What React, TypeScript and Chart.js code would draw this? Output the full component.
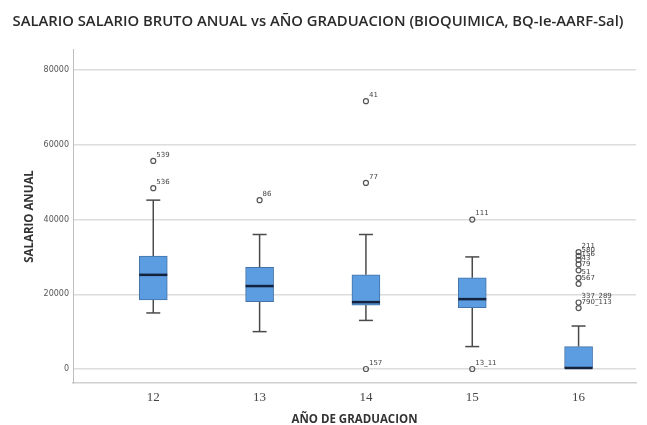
import React, { useEffect, useRef } from 'react';
import { Chart, registerables } from 'chart.js';

Chart.register(...registerables);

// ---- data ----
const years = [12, 13, 14, 15, 16];
const whiskerLow = [15000, 10000, 13000, 6000, 0];
const q1 = [18500, 18000, 17100, 16400, 0];
const median = [25200, 22200, 17900, 18700, 0];
const q3 = [30200, 27200, 25200, 24400, 6000];
const whiskerHigh = [45200, 36000, 36000, 30000, 11500];

const outlierYear = [12, 12, 13, 14, 14, 14, 15, 15, 16, 16, 16, 16, 16, 16, 16, 16, 16];
const outlierValue = [55700, 48400, 45200, 71700, 49800, 0, 40000, 0, 31300, 30300, 29200, 28000, 26400, 24400, 22800, 17800, 16300];
const outlierLabel = ['539', '536', '86', '41', '77', '157', '111', '13_11', '211', '580', '156', '43', '79', '51', '567', '337_289', '790_113'];

const yTicks = [0, 20000, 40000, 60000, 80000];
const xTicks = [12, 13, 14, 15, 16];

const TITLE = 'SALARIO SALARIO BRUTO ANUAL vs AÑO GRADUACION (BIOQUIMICA, BQ-Ie-AARF-Sal)';

const boxParts = {
  id: 'boxParts',
  beforeDatasetsDraw(chart: any) {
    const { ctx, scales } = chart;
    const x = scales.x;
    const y = scales.y;
    ctx.save();
    ctx.strokeStyle = '#4a4a4a';
    ctx.lineWidth = 1.5;
    const cap = 7;
    years.forEach((yr, i) => {
      const px = x.getPixelForValue(yr);
      if (whiskerLow[i] < q1[i]) {
        ctx.beginPath();
        ctx.moveTo(px, y.getPixelForValue(q1[i]));
        ctx.lineTo(px, y.getPixelForValue(whiskerLow[i]));
        ctx.stroke();
        ctx.beginPath();
        ctx.moveTo(px - cap, y.getPixelForValue(whiskerLow[i]));
        ctx.lineTo(px + cap, y.getPixelForValue(whiskerLow[i]));
        ctx.stroke();
      }
      if (whiskerHigh[i] > q3[i]) {
        ctx.beginPath();
        ctx.moveTo(px, y.getPixelForValue(q3[i]));
        ctx.lineTo(px, y.getPixelForValue(whiskerHigh[i]));
        ctx.stroke();
        ctx.beginPath();
        ctx.moveTo(px - cap, y.getPixelForValue(whiskerHigh[i]));
        ctx.lineTo(px + cap, y.getPixelForValue(whiskerHigh[i]));
        ctx.stroke();
      }
    });
    ctx.restore();
  },
  afterDatasetsDraw(chart: any) {
    const { ctx, scales } = chart;
    const x = scales.x;
    const y = scales.y;
    ctx.save();
    ctx.strokeStyle = '#14233d';
    ctx.lineWidth = 2.5;
    years.forEach((yr, i) => {
      const px = x.getPixelForValue(yr);
      const py = y.getPixelForValue(median[i]) - (median[i] === q1[i] ? 1 : 0);
      ctx.beginPath();
      ctx.moveTo(px - 14, py);
      ctx.lineTo(px + 14, py);
      ctx.stroke();
    });
    ctx.fillStyle = '#444';
    ctx.font = '7px "DejaVu Sans"';
    ctx.textBaseline = 'middle';
    ctx.textAlign = 'left';
    outlierYear.forEach((yr, i) => {
      const px = x.getPixelForValue(yr);
      const py = y.getPixelForValue(outlierValue[i]);
      ctx.fillText(outlierLabel[i], px + 3, py - 6);
    });
    ctx.restore();
  },
};

export default function App() {
  const ref = useRef<HTMLCanvasElement | null>(null);
  useEffect(() => {
    document.body.style.margin = '0';
    const canvas = ref.current;
    if (!canvas) return;
    const chart = new Chart(canvas, {
      type: 'bar',
      data: {
        datasets: [
          {
            type: 'bar',
            data: years.map((yr, i) => ({ x: yr, y: [q1[i], q3[i]] })) as any,
            backgroundColor: '#5b9de0',
            borderColor: '#4373a8',
            borderWidth: 1,
            borderSkipped: false,
            barThickness: 28,
          } as any,
          {
            type: 'scatter',
            data: outlierYear.map((yr, i) => ({ x: yr, y: outlierValue[i] })),
            pointStyle: 'circle',
            pointRadius: 2.5,
            backgroundColor: 'rgba(255,255,255,0)',
            borderColor: '#555',
            borderWidth: 1.2,
          } as any,
        ],
      },
      options: {
        responsive: false,
        animation: false,
        devicePixelRatio: 1,
        layout: { padding: { left: 0, right: 11, top: 0, bottom: 0 } },
        plugins: {
          legend: { display: false },
          tooltip: { enabled: false },
          title: {
            display: true,
            text: TITLE,
            color: '#2a2a2a',
            font: { family: 'Open Sans', size: 14.8, weight: '600', lineHeight: 1.2 },
            padding: { top: 13, bottom: 19.2 },
          },
        },
        scales: {
          x: {
            type: 'linear',
            offset: false,
            min: 11.245,
            max: 16.54,
            afterBuildTicks: (s: any) => {
              s.ticks = xTicks.map((v) => ({ value: v }));
            },
            afterFit: (s: any) => {
              s.height = 42;
            },
            grid: { display: false, drawTicks: false, offset: false },
            border: { display: true, color: '#cfcfcf', width: 1.5 },
            ticks: {
              color: '#444',
              padding: 7,
              font: { family: 'Liberation Serif', size: 13 },
              callback: (v: any) => String(v),
            },
            title: {
              display: true,
              text: 'AÑO DE GRADUACION',
              color: '#333',
              font: { family: 'Open Sans', size: 11.5, weight: 'bold', lineHeight: 1 },
              padding: 0,
            },
          },
          y: {
            type: 'linear',
            min: -3750,
            max: 85400,
            afterBuildTicks: (s: any) => {
              s.ticks = yTicks.map((v) => ({ value: v }));
            },
            afterFit: (s: any) => {
              s.width = 73;
            },
            grid: { color: '#dcdcdc', lineWidth: 1.5, drawTicks: false },
            border: { display: true, color: '#bdbdbd', width: 1 },
            ticks: {
              color: '#555',
              padding: 4,
              font: { family: 'DejaVu Sans', size: 8 },
              callback: (v: any) => String(v),
            },
            title: {
              display: true,
              text: 'SALARIO ANUAL',
              color: '#333',
              font: { family: 'Open Sans', size: 11.5, weight: 'bold', lineHeight: 1 },
              padding: { top: 24, bottom: 0 },
            },
          },
        },
      } as any,
      plugins: [boxParts],
    });
    return () => chart.destroy();
  }, []);
  return (
    <div style={{ width: 647, height: 425 }}>
      <canvas ref={ref} width={647} height={425} />
    </div>
  );
}
